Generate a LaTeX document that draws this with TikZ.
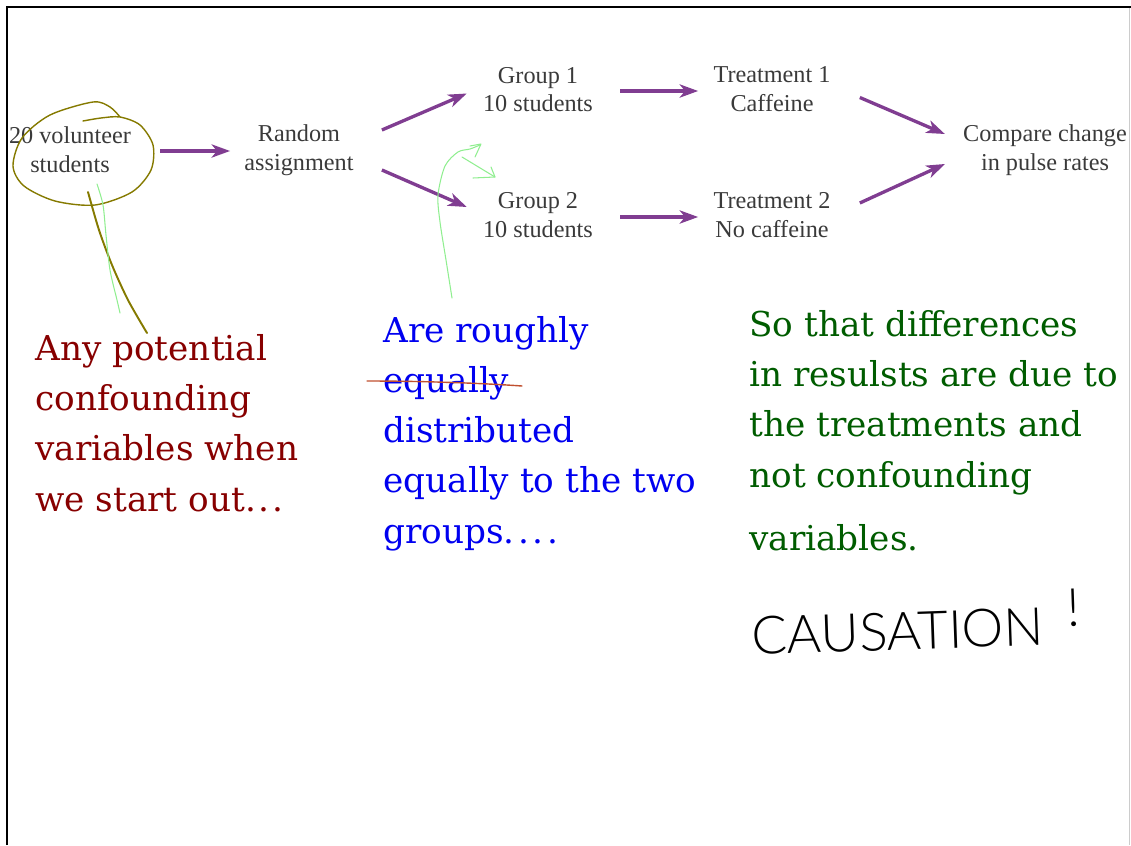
\documentclass[tikz,border=0pt]{standalone}
\usepackage{fontspec}
\setmainfont{Liberation Serif}
\newfontfamily\notefont{DejaVu Serif}
\newfontfamily\handfont{Lato Light}
\usetikzlibrary{arrows.meta,calc}
\definecolor{Ink}{HTML}{3A3A3A}
\definecolor{Flow}{HTML}{803D91}
\definecolor{Olive}{HTML}{857A00}
\definecolor{Mint}{HTML}{90EE90}
\definecolor{Strike}{HTML}{C0502F}
\definecolor{NoteRed}{HTML}{870000}
\definecolor{NoteBlue}{HTML}{0000F0}
\definecolor{NoteGreen}{HTML}{005C00}
\tikzset{
  >={Stealth[length=10.5pt,width=7.5pt,inset=3pt]},
  stage/.style={align=center, inner sep=0pt, text=Ink,
    font=\fontsize{13.8}{16.4}\selectfont},
  flow/.style={->, draw=Flow, line width=1.9pt},
  note/.style={align=left, inner sep=0pt, anchor=base west,
    font=\notefont\fontsize{19.5}{28.6}\selectfont},
  scribble/.style={line width=0.8pt, line cap=round, line join=round},
}
\begin{document}
\begin{tikzpicture}[x=0.02cm,y=-0.02cm]
  \useasboundingbox (0,0) rectangle (1131,845);
  \draw[line width=1.7pt] (7,845) -- (7,7) -- (1131,7);
  \draw[black!20, line width=0.6pt] (1129.5,8) -- (1129.5,845);

  % Design of the caffeine experiment.
  \node[stage] (vol)  at (70,150)   {20 volunteer\\students};
  \node[stage] (rand) at (299,150)  {Random\\assignment};
  \node[stage] (grpA) at (538,89.5) {Group 1\\10 students};
  \node[stage] (grpB) at (538,215)  {Group 2\\10 students};
  \node[stage] (trtA) at (772,89.5) {Treatment 1\\Caffeine};
  \node[stage] (trtB) at (772,215)  {Treatment 2\\No caffeine};
  \node[stage] (cmp)  at (1045,150) {Compare change\\in pulse rates};

  \draw[flow] ($(vol.east)+(29,1)$) -- ($(rand.west)+(-14,1)$);
  \draw[flow] ($(rand.east)+(28,-20)$) -- ($(grpA.west)+(-16,4)$);
  \draw[flow] ($(rand.east)+(28,20)$) -- ($(grpB.west)+(-16,-8)$);
  \draw[flow] ($(grpA.east)+(27,1.5)$) -- ($(trtA.west)+(-15,1.5)$);
  \draw[flow] ($(grpB.east)+(27,2)$) -- ($(trtB.west)+(-15,2)$);
  \draw[flow] ($(trtA.east)+(29,8)$) -- ($(cmp.west)+(-18,-16)$);
  \draw[flow] ($(trtB.east)+(29,-12)$) -- ($(cmp.west)+(-18,14)$);

  % Hand-written notes (anchored on their last baseline).
  \node[note, text=NoteRed] (confound) at (35,511)
    {Any potential\\confounding\\variables when\\we start out.\kern1.5pt.\kern1.5pt.};
  \node[note, text=NoteBlue] (balance) at (383,543)
    {Are roughly\\equally\\distributed\\equally to the two\\groups.\kern2pt.\kern2pt.\kern2pt.};
  \node[note, text=NoteGreen] (reason) at (749,487)
    {So that differences\\in resulsts are due to\\the treatments and\\not confounding};
  \node[note, text=NoteGreen] (reasonEnd) at (749,550) {variables.};
  \node[font=\handfont\fontsize{30}{30}\selectfont, anchor=base west,
    inner sep=0pt, rotate=2] (causation) at (752,655)
    {CAUSATION\hspace{0.45em}\raisebox{10pt}{!}};

  % Pen strokes.
  \draw[scribble, Olive] plot[smooth] coordinates {(83,121) (101,118) (120,117)
    (140,125) (153,145) (151,170) (132,192) (95,205) (55,201) (24,186) (13,166)
    (22,138) (50,115) (93,102) (110,107) (120,117)};
  \draw[scribble, Olive, line width=1.1pt] plot[smooth] coordinates
    {(88,192) (99,230) (112,265) (128,300) (147,333)};
  \draw[scribble, Mint, line width=0.6pt] plot[smooth] coordinates
    {(97,184) (103,205) (106,235) (110,270) (117,300) (120,313)};
  \draw[scribble, Mint, line width=0.6pt] plot[smooth] coordinates
    {(452,298) (446,260) (440,222) (438,195) (445,166) (458,152) (470,149) (480,145)};
  \draw[scribble, Mint, line width=0.6pt] (470,146) -- (481,144) -- (475,157);
  \draw[scribble, Mint, line width=0.6pt] (462,157) -- (495,177);
  \draw[scribble, Mint, line width=0.6pt] (473,178) -- (495,177) -- (491,167);
  \draw[scribble, Strike] (367,381) .. controls (420,381) and (480,383) .. (522,386);
\end{tikzpicture}
\end{document}
